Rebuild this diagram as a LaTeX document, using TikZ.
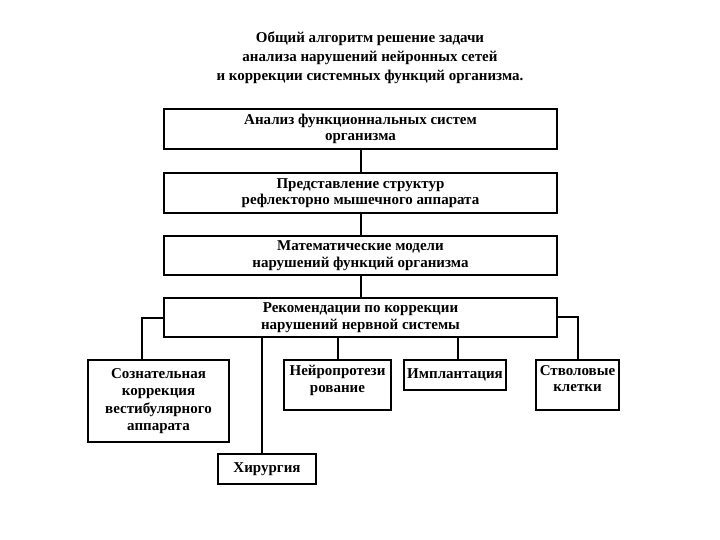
\documentclass[tikz,border=0pt]{standalone}
\usepackage{fontspec}
\setmainfont{Liberation Serif}
\begin{document}
\begin{tikzpicture}[x=1pt,y=-1pt,
  txt/.style={font=\bfseries\fontsize{15}{16.5}\selectfont,align=center},
  box/.style={draw,line width=2pt,inner sep=0pt,anchor=north west,txt},
  conn/.style={line width=2pt}]
\useasboundingbox (0,0) rectangle (720,540);
\node[font=\bfseries\fontsize{15}{19}\selectfont,align=center] (title) at (370,58)
  {Общий алгоритм решение задачи\\анализа нарушений нейронных сетей\\и коррекции системных функций организма.};
\node[box,minimum width=393pt,minimum height=40pt] (b1) at (163,108) {Анализ функционнальных систем\\организма};
\node[box,minimum width=393pt,minimum height=40pt] (b2) at (163,172) {Представление структур\\рефлекторно мышечного аппарата};
\node[box,minimum width=393pt,minimum height=39pt] (b3) at (163,235) {Математические модели\\нарушений функций организма};
\node[box,minimum width=393pt,minimum height=39pt] (b4) at (163,297) {Рекомендации по коррекции\\нарушений нервной системы};
\node[box,minimum width=141pt,minimum height=82pt,font=\bfseries\fontsize{15}{17.3}\selectfont] (c1) at (87,359) {Сознательная\\коррекция\\вестибулярного\\аппарата};
\node[box,minimum width=98pt,minimum height=30pt] (c2) at (217,453) {Хирургия};
\node[box,minimum width=107pt,minimum height=50pt] (c3) at (283,359) {};
\node[txt,anchor=north] (c3t) at ([yshift=-3pt]c3.north) {Нейропротези\\рование};
\node[box,minimum width=102pt,minimum height=30pt] (c4) at (403,359) {Имплантация};
\node[box,minimum width=83pt,minimum height=50pt] (c5) at (535,359) {};
\node[txt,anchor=north] (c5t) at ([yshift=-3pt]c5.north) {Стволовые\\клетки};
\coordinate (l1) at (142,318);
\coordinate (r1) at (578,317);
\coordinate (x2) at (262,0);
\coordinate (x3) at (338,0);
\coordinate (x4) at (458,0);
\draw[conn] (b1.south) -- (b2.north);
\draw[conn] (b2.south) -- (b3.north);
\draw[conn] (b3.south) -- (b4.north);
\draw[conn] (b4.west|-l1) -- (l1) -- (c1.north-|l1);
\draw[conn] (b4.south-|x2) -- (c2.north-|x2);
\draw[conn] (b4.south-|x3) -- (c3.north-|x3);
\draw[conn] (b4.south-|x4) -- (c4.north-|x4);
\draw[conn] (b4.east|-r1) -- (r1) -- (c5.north-|r1);
\end{tikzpicture}
\end{document}
